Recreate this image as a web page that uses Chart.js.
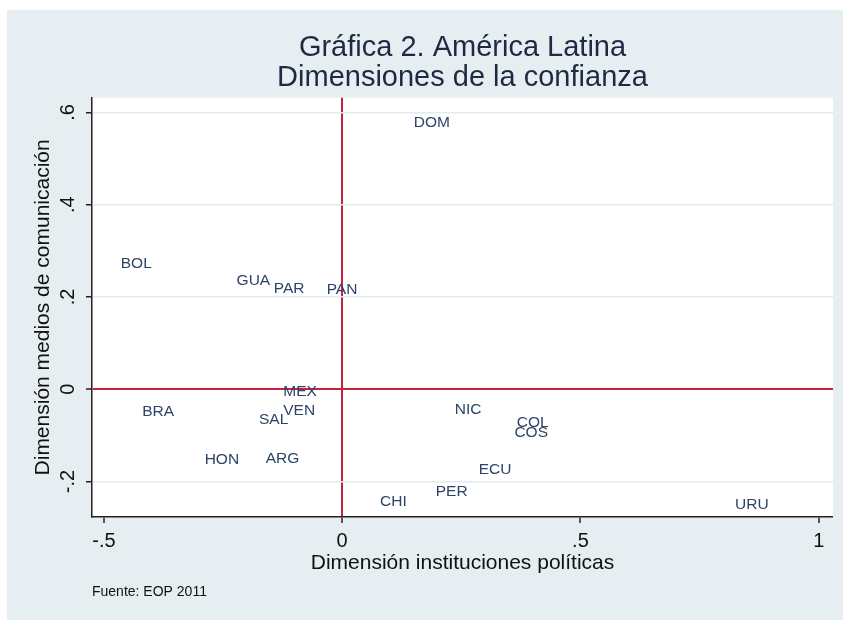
<!DOCTYPE html>
<html>
<head>
<meta charset="utf-8">
<script src="https://cdn.jsdelivr.net/npm/chart.js@4/dist/chart.umd.min.js"></script>
<style>
  html, body { margin: 0; padding: 0; background: #fff; }
  canvas { display: block; }
</style>
</head>
<body>
<canvas id="confianzaChart" width="843" height="620"></canvas>
<script>
// --- Data ---
const countries = ["DOM", "BOL", "GUA", "PAR", "PAN", "MEX", "VEN", "SAL", "BRA",
    "HON", "ARG", "CHI", "PER", "NIC", "COL", "COS", "ECU", "URU"];
const instituciones = [0.142, -0.473, -0.230, -0.152, -0.041, -0.132, -0.132, -0.183, -0.428,
    -0.297, -0.169, 0.071, 0.188, 0.228, 0.358, 0.353, 0.278, 0.816];
const medios = [0.578, 0.272, 0.236, 0.217, 0.215, -0.005, -0.046, -0.067, -0.049,
    -0.153, -0.150, -0.244, -0.222, -0.045, -0.072, -0.095, -0.174, -0.251];

const xTicks = [-0.5, 0, 0.5, 1];
const xTickLabels = ["-.5", "0", ".5", "1"];
const yTicks = [-0.2, 0, 0.2, 0.4, 0.6];
const yTickLabels = ["-.2", "0", ".2", ".4", ".6"];

const FONT = "'Liberation Sans', Helvetica, Arial, sans-serif";
const BG = "#e6eef2";
const RED = "#c4223f";
const GRID = "#e3ebef";

// --- Helper: background + plot region ---
const backgroundPlugin = {
    id: "stataBackground",
    beforeDraw(chart) {
        const { ctx, chartArea } = chart;
        ctx.save();
        ctx.fillStyle = "#ffffff";
        ctx.fillRect(0, 0, chart.width, chart.height);
        ctx.fillStyle = BG;
        ctx.fillRect(7, 10, chart.width - 7, chart.height - 10);
        ctx.fillStyle = "#ffffff";
        ctx.fillRect(chartArea.left, chartArea.top,
            chartArea.right - chartArea.left, chartArea.bottom - chartArea.top);
        ctx.restore();
    },
};

// --- Helper: marker labels to the right of each (invisible) point ---
const markerLabelPlugin = {
    id: "markerLabels",
    afterDatasetsDraw(chart) {
        const { ctx } = chart;
        const meta = chart.getDatasetMeta(0);
        ctx.save();
        ctx.font = "15.5px " + FONT;
        ctx.fillStyle = "#2d4468";
        ctx.textAlign = "left";
        ctx.textBaseline = "middle";
        meta.data.forEach((pt, i) => {
            ctx.fillText(countries[i], pt.x + 4, pt.y);
        });
        ctx.restore();
    },
};

new Chart(document.getElementById("confianzaChart"), {
    type: "scatter",
    data: {
        labels: countries,
        datasets: [
            {
                label: "Países",
                data: instituciones.map((x, i) => ({ x: x, y: medios[i] })),
                pointRadius: 0,
                pointHoverRadius: 0,
            },
        ],
    },
    options: {
        responsive: false,
        animation: false,
        devicePixelRatio: 1,
        layout: { padding: { left: 0, top: 0, right: 10, bottom: 0 } },
        plugins: {
            legend: { display: false },
            tooltip: { enabled: false },
            title: {
                display: true,
                fullSize: false,
                text: ["Gráfica 2. América Latina", "Dimensiones de la confianza"],
                color: "#1e2a42",
                font: { family: FONT, size: 29, weight: "normal", lineHeight: 1.03 },
                padding: { top: 33, bottom: 5 },
            },
            subtitle: {
                display: true,
                fullSize: false,
                position: "bottom",
                align: "start",
                text: "Fuente: EOP 2011",
                color: "#111",
                font: { family: FONT, size: 14, weight: "normal", lineHeight: 1.2 },
                padding: { top: 0, bottom: 19.6 },
            },
        },
        scales: {
            x: {
                type: "linear",
                min: -0.525,
                max: 1.03,
                afterBuildTicks: (scale) => {
                    scale.ticks = xTicks.map((v) => ({ value: v }));
                },
                afterFit: (scale) => {
                    scale.height = 66.6;
                },
                ticks: {
                    color: "#111",
                    font: { family: FONT, size: 20 },
                    padding: 6,
                    maxRotation: 0,
                    callback: (v) => xTickLabels[xTicks.indexOf(v)],
                },
                grid: {
                    color: (c) => (c.tick && c.tick.value === 0 ? RED : "rgba(0,0,0,0)"),
                    lineWidth: (c) => (c.tick && c.tick.value === 0 ? 2 : 0),
                    tickColor: "#222",
                    tickLength: 6,
                    tickWidth: 1.5,
                },
                border: { display: true, color: "#222", width: 1.5 },
                title: {
                    display: true,
                    text: "Dimensión instituciones políticas",
                    color: "#111",
                    font: { family: FONT, size: 21, lineHeight: 1.2 },
                    padding: { top: 0, bottom: 8 },
                },
            },
            y: {
                type: "linear",
                min: -0.277,
                max: 0.632,
                afterBuildTicks: (scale) => {
                    scale.ticks = yTicks.map((v) => ({ value: v }));
                },
                afterFit: (scale) => {
                    scale.width = 92;
                },
                ticks: {
                    color: "#111",
                    font: { family: FONT, size: 20 },
                    padding: 6,
                    minRotation: 90,
                    maxRotation: 90,
                    crossAlign: "center",
                    callback: (v) => yTickLabels[yTicks.indexOf(v)],
                },
                grid: {
                    color: (c) => (c.tick && c.tick.value === 0 ? RED : GRID),
                    lineWidth: (c) => (c.tick && c.tick.value === 0 ? 2 : 1.5),
                    tickColor: "#222",
                    tickLength: 6,
                    tickWidth: 1.5,
                },
                border: { display: true, color: "#222", width: 1.5 },
                title: {
                    display: true,
                    text: "Dimensión medios de comunicación",
                    color: "#111",
                    font: { family: FONT, size: 21, lineHeight: 1.2 },
                    padding: { top: 31, bottom: 0 },
                },
            },
        },
    },
    plugins: [backgroundPlugin, markerLabelPlugin],
});
</script>
</body>
</html>
